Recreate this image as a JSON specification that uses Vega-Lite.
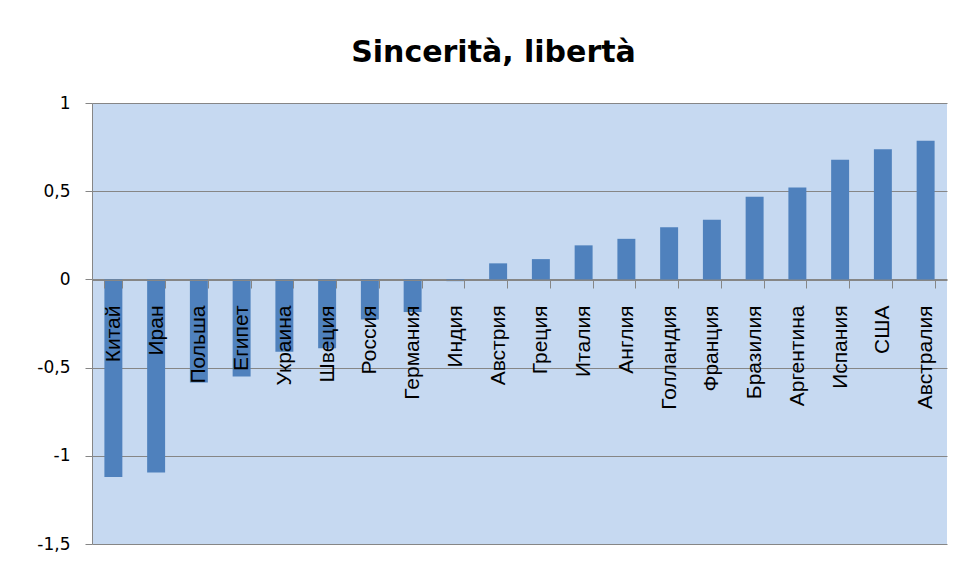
{
  "$schema": "https://vega.github.io/schema/vega-lite/v6.json",
  "autosize": {"type": "none"},
  "width": 855,
  "height": 441,
  "padding": {"left": 92, "top": 103, "right": 14, "bottom": 18},
  "background": "#ffffff",
  "title": {
    "text": "Sincerità, libertà",
    "font": "DejaVu Sans",
    "fontWeight": "bold",
    "fontSize": 30,
    "color": "#000000",
    "anchor": "middle",
    "dx": -26,
    "dy": 28,
    "baseline": "alphabetic",
    "offset": 30
  },
  "config": {
    "view": {"fill": "#C6D9F1", "stroke": null}
  },
  "data": {
    "values": [
      {"country": "Китай", "value": -1.12},
      {"country": "Иран", "value": -1.095},
      {"country": "Польша", "value": -0.585},
      {"country": "Египет", "value": -0.551},
      {"country": "Украина", "value": -0.41},
      {"country": "Швеция", "value": -0.39},
      {"country": "Россия", "value": -0.227},
      {"country": "Германия", "value": -0.185},
      {"country": "Индия", "value": -0.01},
      {"country": "Австрия", "value": 0.091},
      {"country": "Греция", "value": 0.115},
      {"country": "Италия", "value": 0.193},
      {"country": "Англия", "value": 0.23},
      {"country": "Голландия", "value": 0.295},
      {"country": "Франция", "value": 0.338},
      {"country": "Бразилия", "value": 0.468},
      {"country": "Аргентина", "value": 0.521},
      {"country": "Испания", "value": 0.678},
      {"country": "США", "value": 0.738},
      {"country": "Австралия", "value": 0.786}
    ]
  },
  "mark": {"type": "bar", "color": "#4F81BD"},
  "encoding": {
    "x": {
      "field": "country",
      "type": "nominal",
      "sort": null,
      "scale": {"paddingInner": 0.58, "paddingOuter": 0.29},
      "axis": {
        "title": null,
        "offset": -264,
        "zindex": 1,
        "domainColor": "#868686",
        "tickColor": "#868686",
        "tickSize": 8,
        "tickBand": "extent",
        "labelAngle": -90,
        "labelAlign": "right",
        "labelBaseline": "middle",
        "labelPadding": 17,
        "labelFont": "Liberation Sans",
        "labelFontSize": 21,
        "labelColor": "#000000",
        "labelOverlap": false,
        "labelLimit": 0
      }
    },
    "y": {
      "field": "value",
      "type": "quantitative",
      "scale": {"domain": [-1.5, 1], "nice": false, "zero": false},
      "axis": {
        "title": null,
        "values": [-1.5, -1, -0.5, 0, 0.5, 1],
        "format": ".1~f",
        "labelExpr": "replace(replace(datum.label, '.', ','), '−', '-')",
        "domainColor": "#868686",
        "tickColor": "#868686",
        "gridColor": "#868686",
        "tickSize": 7,
        "labelPadding": 15,
        "labelFont": "DejaVu Sans",
        "labelFontSize": 17,
        "labelColor": "#000000"
      }
    }
  }
}
